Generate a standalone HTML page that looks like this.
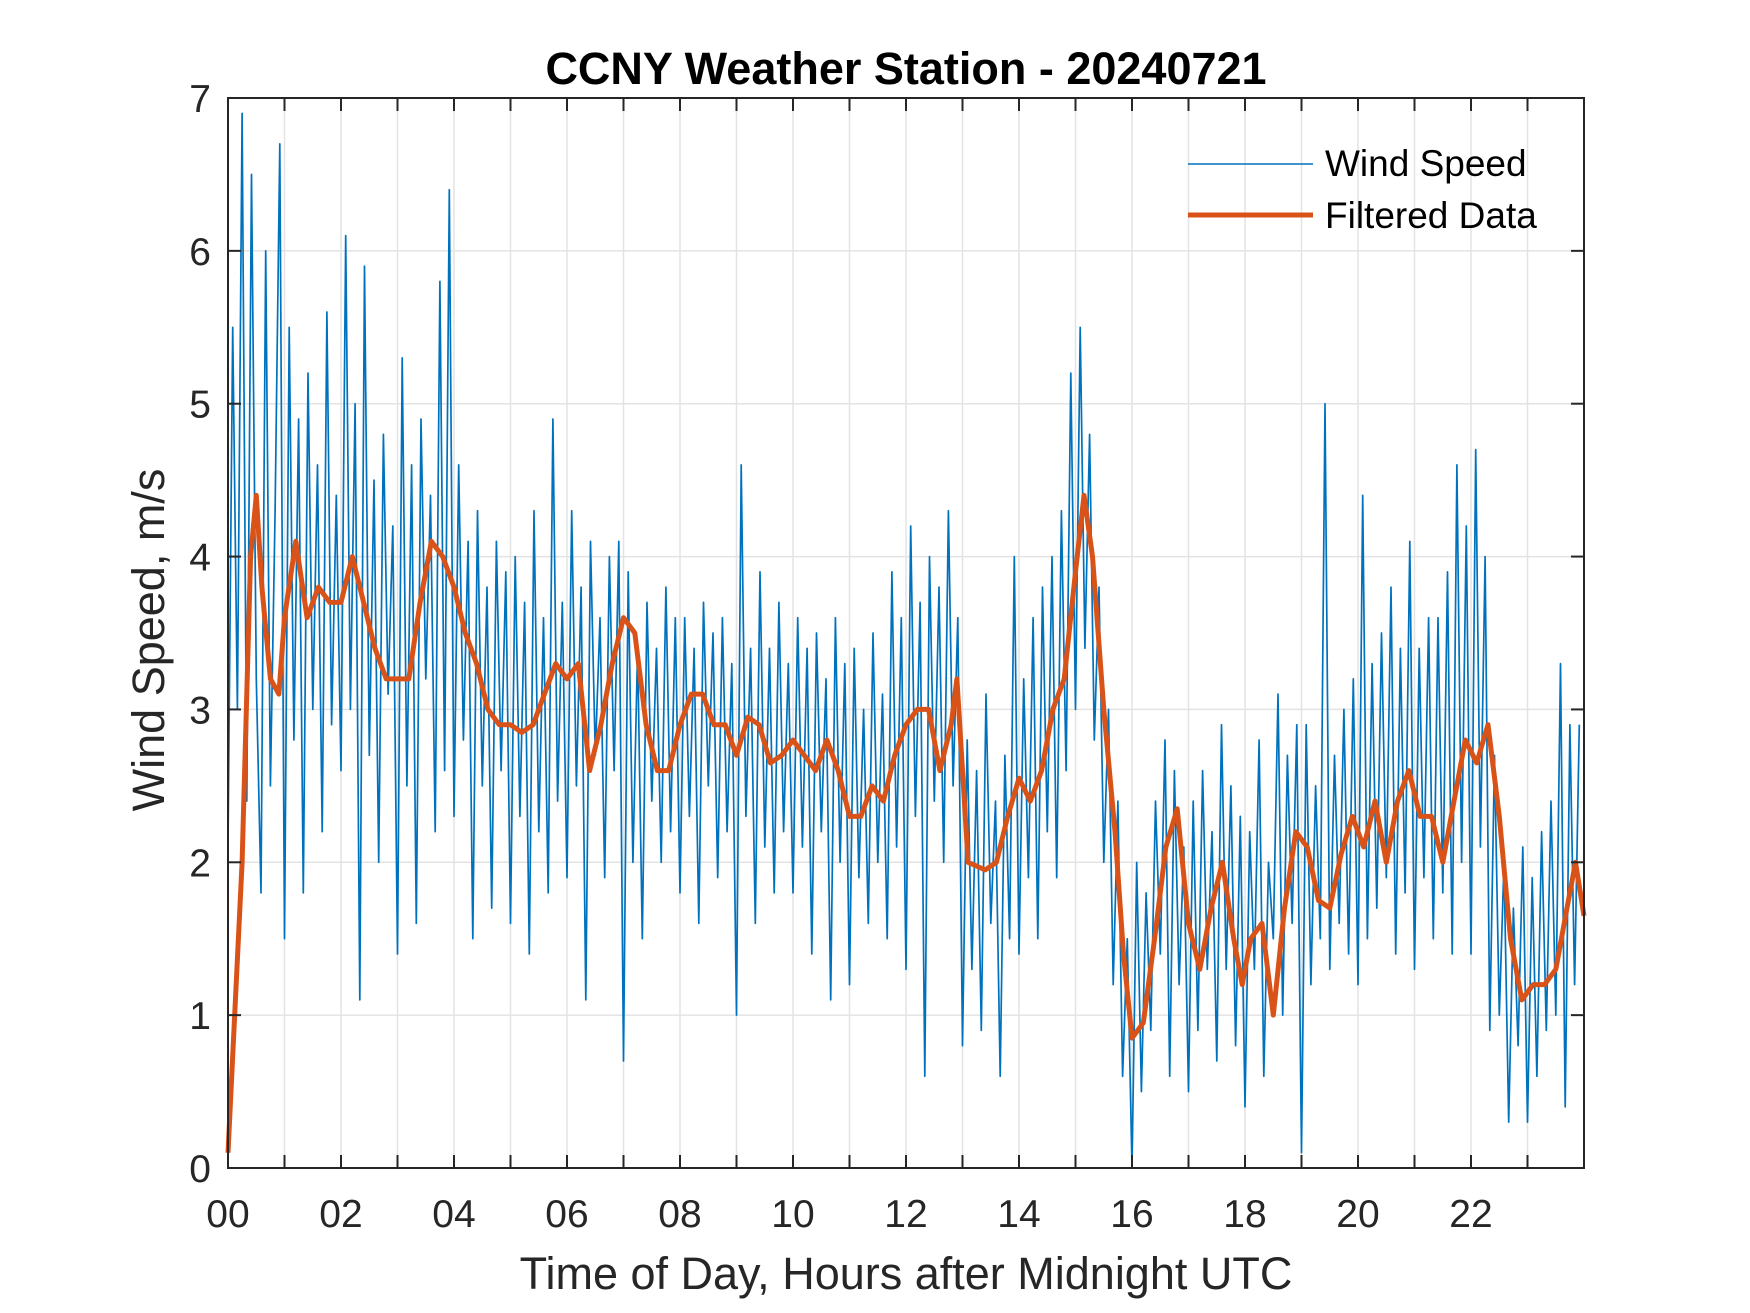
<!DOCTYPE html>
<html><head><meta charset="utf-8">
<style>
html,body{margin:0;padding:0;background:#fff;}
svg{display:block;font-family:"Liberation Sans",Arial,sans-serif;}
</style></head>
<body>
<svg id="chart" width="1750" height="1313" viewBox="0 0 1750 1313" xmlns="http://www.w3.org/2000/svg">
<rect x="0" y="0" width="1750" height="1313" fill="#fff"/>
<g id="grid"></g>
<g id="series"></g>
<g id="axes"></g>
<text x="906" y="84" text-anchor="middle" font-size="45" font-weight="bold" fill="#000">CCNY Weather Station - 20240721</text>
<text x="906" y="1289" text-anchor="middle" font-size="45" fill="#262626">Time of Day, Hours after Midnight UTC</text>
<text x="0" y="0" transform="translate(164,640) rotate(-90)" text-anchor="middle" font-size="45" fill="#262626">Wind Speed, m/s</text>
<g>
<line x1="1188" y1="164" x2="1313" y2="164" stroke="#0072BD" stroke-width="1.5"/>
<text x="1325" y="176" font-size="37" fill="#000">Wind Speed</text>
<line x1="1188" y1="215" x2="1313" y2="215" stroke="#D95319" stroke-width="5"/>
<text x="1325" y="228" font-size="37" fill="#000">Filtered Data</text>
</g>
</svg>
<script>
const xTickLabels = ["00","02","04","06","08","10","12","14","16","18","20","22"];
const yTickLabels = ["0","1","2","3","4","5","6","7"];
// raw wind speed, 5-minute samples, 12 per hour
const rawWind = [
2.1,5.5,3.0,6.9,2.4,6.5,3.2,1.8,6.0,2.5,4.3,6.7,
1.5,5.5,2.8,4.9,1.8,5.2,3.0,4.6,2.2,5.6,2.9,4.4,
2.6,6.1,3.0,5.0,1.1,5.9,2.7,4.5,2.0,4.8,3.1,4.2,
1.4,5.3,2.5,4.6,1.6,4.9,3.2,4.4,2.2,5.8,2.6,6.4,
2.3,4.6,2.8,4.1,1.5,4.3,2.5,3.8,1.7,4.1,2.6,3.9,
1.6,4.0,2.3,3.7,1.4,4.3,2.2,3.6,1.8,4.9,2.4,3.7,
1.9,4.3,2.5,3.8,1.1,4.1,2.7,3.6,1.9,4.0,2.6,4.1,
0.7,3.9,2.0,3.4,1.5,3.7,2.4,3.4,2.0,3.8,2.2,3.6,
1.8,3.6,2.3,3.4,1.6,3.7,2.5,3.5,1.9,3.6,2.2,3.3,
1.0,4.6,2.3,3.4,1.6,3.9,2.1,3.4,1.8,3.7,2.2,3.3,
1.8,3.6,2.1,3.4,1.4,3.5,2.2,3.2,1.1,3.6,2.0,3.3,
1.2,3.4,1.9,3.0,1.6,3.5,2.0,3.1,1.5,3.9,2.1,3.6,
1.3,4.2,2.3,3.7,0.6,4.0,2.4,3.8,2.0,4.3,2.5,3.6,
0.8,2.8,1.3,2.6,0.9,3.1,1.6,2.4,0.6,2.7,1.5,4.0,
1.4,3.2,1.9,3.6,1.5,3.8,2.2,4.0,1.9,4.3,2.6,5.2,
3.0,5.5,3.4,4.8,2.8,3.8,2.0,3.0,1.2,2.4,0.6,1.5,
0.0,2.0,0.5,1.8,0.9,2.4,1.4,2.8,0.6,2.6,1.2,2.1,
0.5,2.4,0.9,2.6,1.3,2.2,0.7,2.9,1.3,2.5,0.8,2.3,
0.4,2.2,1.3,2.8,0.6,2.0,1.5,3.1,1.0,2.7,1.6,2.9,
0.1,2.9,1.2,2.5,1.5,5.0,1.3,2.7,1.6,3.0,1.4,3.2,
1.2,4.4,1.5,3.3,1.7,3.5,1.9,3.8,1.4,3.4,1.8,4.1,
1.3,3.4,1.9,3.6,1.5,3.6,1.8,3.9,1.4,4.6,2.0,4.2,
1.4,4.7,2.1,4.0,0.9,2.7,1.0,2.0,0.3,1.7,0.8,2.1,
0.3,1.9,0.6,2.2,0.9,2.4,1.0,3.3,0.4,2.9,1.2,2.9
];
const filtHours = [0,0.25,0.4,0.5,0.6,0.75,0.9,1.0,1.2,1.4,1.6,1.8,2.0,2.2,2.4,2.6,2.8,3.0,3.2,3.4,3.6,3.8,4.0,4.2,4.4,4.6,4.8,5.0,5.2,5.4,5.6,5.8,6.0,6.2,6.4,6.6,6.8,7.0,7.2,7.4,7.6,7.8,8.0,8.2,8.4,8.6,8.8,9.0,9.2,9.4,9.6,9.8,10.0,10.2,10.4,10.6,10.8,11.0,11.2,11.4,11.6,11.8,12.0,12.2,12.4,12.6,12.8,12.9,13.1,13.4,13.6,13.8,14.0,14.2,14.4,14.6,14.8,15.0,15.15,15.3,15.5,15.7,15.85,16.0,16.2,16.4,16.6,16.8,17.0,17.2,17.4,17.6,17.8,17.95,18.1,18.3,18.5,18.7,18.9,19.1,19.3,19.5,19.7,19.9,20.1,20.3,20.5,20.7,20.9,21.1,21.3,21.5,21.7,21.9,22.1,22.3,22.5,22.7,22.9,23.1,23.3,23.5,23.7,23.85,24];
const filtValues = [0.1,2.0,4.0,4.4,3.8,3.2,3.1,3.6,4.1,3.6,3.8,3.7,3.7,4.0,3.7,3.4,3.2,3.2,3.2,3.7,4.1,4.0,3.8,3.5,3.3,3.0,2.9,2.9,2.85,2.9,3.1,3.3,3.2,3.3,2.6,2.9,3.3,3.6,3.5,2.9,2.6,2.6,2.9,3.1,3.1,2.9,2.9,2.7,2.95,2.9,2.65,2.7,2.8,2.7,2.6,2.8,2.6,2.3,2.3,2.5,2.4,2.7,2.9,3.0,3.0,2.6,2.9,3.2,2.0,1.95,2.0,2.3,2.55,2.4,2.6,3.0,3.2,3.9,4.4,4.0,3.0,2.2,1.4,0.85,0.95,1.5,2.1,2.35,1.6,1.3,1.7,2.0,1.5,1.2,1.5,1.6,1.0,1.7,2.2,2.1,1.75,1.7,2.05,2.3,2.1,2.4,2.0,2.4,2.6,2.3,2.3,2.0,2.4,2.8,2.65,2.9,2.3,1.5,1.1,1.2,1.2,1.3,1.7,2.0,1.65];

const L=228,R=1584,T=98,B=1168;
const xS=h=>L+(h/24)*(R-L);
const yS=v=>B-(v/7)*(B-T);
const NS="http://www.w3.org/2000/svg";
function mk(parent,tag,attrs){const e=document.createElementNS(NS,tag);for(const k in attrs)e.setAttribute(k,attrs[k]);parent.appendChild(e);return e;}
const grid=document.getElementById('grid'),axes=document.getElementById('axes'),series=document.getElementById('series');
for(let h=1;h<24;h++){
  const l=mk(grid,'line',{x1:xS(h),x2:xS(h),y1:T,y2:B,stroke:'#e3e3e3','stroke-width':1.5});
  
  
}
for(let v=1;v<7;v++){
  const l=mk(grid,'line',{x1:L,x2:R,y1:yS(v),y2:yS(v),stroke:'#e3e3e3','stroke-width':1.5});
  
  
}
let d='';
rawWind.forEach((v,i)=>{d+=(i?'L':'M')+xS(i/12).toFixed(1)+','+yS(v).toFixed(1);});
const raw=mk(series,'path',{d:d,fill:'none',stroke:'#0072BD','stroke-width':1.7,'stroke-linejoin':'round'});


let d2='';
filtValues.forEach((v,i)=>{d2+=(i?'L':'M')+xS(filtHours[i]).toFixed(1)+','+yS(v).toFixed(1);});
const filt=mk(series,'path',{d:d2,fill:'none',stroke:'#D95319','stroke-width':5,'stroke-linejoin':'round'});


const box=mk(axes,'rect',{x:L,y:T,width:R-L,height:B-T,fill:'none',stroke:'#262626','stroke-width':2});


for(let h=1;h<24;h++){
  mk(axes,'line',{x1:xS(h),x2:xS(h),y1:B,y2:B-13,stroke:'#262626','stroke-width':2});
  mk(axes,'line',{x1:xS(h),x2:xS(h),y1:T,y2:T+13,stroke:'#262626','stroke-width':2});
}
xTickLabels.forEach((s,i)=>{
  const t=mk(axes,'text',{x:xS(i*2),y:1227,'text-anchor':'middle','font-size':39,fill:'#262626'});
  t.textContent=s;
  
  
});
yTickLabels.forEach((s,i)=>{
  const y=yS(i);
  if(i>0&&i<7){
    mk(axes,'line',{x1:L,x2:L+13,y1:y,y2:y,stroke:'#262626','stroke-width':2});
    mk(axes,'line',{x1:R,x2:R-13,y1:y,y2:y,stroke:'#262626','stroke-width':2});
  }
  const t=mk(axes,'text',{x:211,y:y+14,'text-anchor':'end','font-size':39,fill:'#262626'});
  t.textContent=s;
  
  
});
</script>
</body></html>
